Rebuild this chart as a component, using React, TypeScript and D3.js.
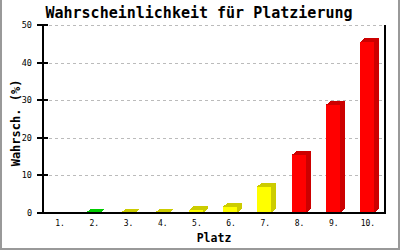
import React from "react";
import * as d3 from "d3";

const categories = ["1.", "2.", "3.", "4.", "5.", "6.", "7.", "8.", "9.", "10."];
const values = [0, 0.1, 0.1, 0.1, 0.8, 1.7, 7.0, 15.5, 28.8, 45.5];
const colorGroups = ["green", "green", "yellow", "yellow", "yellow", "yellow", "yellow", "red", "red", "red"];
const yTicks = [0, 10, 20, 30, 40, 50];
const title = "Wahrscheinlichkeit für Platzierung";
const xTitle = "Platz";
const yTitle = "Wahrsch. (%)";

const palette: Record<string, { front: string; dark: string }> = {
  green: { front: "#00ee00", dark: "#00cc00" },
  yellow: { front: "#ffff00", dark: "#cccc00" },
  red: { front: "#ff0000", dark: "#cc0000" },
};

export default function App() {
  const W = 400, H = 250;
  const left = 43, right = 385, top = 25, bottom = 213;
  const x = d3.scaleBand<string>().domain(categories).range([left, right]);
  const y = d3.scaleLinear().domain([0, 50]).range([bottom, top]);
  const font = "'DejaVu Sans Mono', monospace";
  const dx = 5, dy = 4;
  return (
    <svg width={W} height={H} style={{ position: "absolute", left: 0, top: 0, background: "#fff" }}>
      <rect x={0} y={0} width={W} height={H} fill="#fff" />
      <path d={`M1,0 V249 H399 V0`} fill="none" stroke="#999" strokeWidth={2} />
      <text x={199} y={17.5} textAnchor="middle" fontFamily={font} fontWeight="bold" fontSize={15} fill="#000">{title}</text>
      {yTicks.filter(t => t > 0).map(t => (
        <line key={"g" + t} x1={49} x2={right} y1={Math.round(y(t)) + 0.5} y2={Math.round(y(t)) + 0.5}
          stroke="#bbb" strokeDasharray="3,3" />
      ))}
      {categories.map((c, i) => {
        const v = values[i];
        if (v <= 0) return null;
        const cx = x(c)! + x.bandwidth() / 2;
        const x0 = Math.round(cx - 8), x1 = Math.round(cx + 6);
        const yt = y(v), yb = y(0);
        const col = palette[colorGroups[i]];
        return (
          <g key={c} shapeRendering="crispEdges">
            <path d={`M${x1},${yb} L${x1 + dx},${yb - dy} L${x1 + dx},${yt - dy} L${x1},${yt} Z`} fill={col.dark} />
            <path d={`M${x0},${yt} L${x0 + dx},${yt - dy} L${x1 + dx},${yt - dy} L${x1},${yt} Z`} fill={col.dark} />
            <rect x={x0} y={yt} width={x1 - x0} height={yb - yt} fill={col.front} />
          </g>
        );
      })}
      <g shapeRendering="crispEdges">
        <line x1={left} x2={left} y1={top} y2={bottom + 1} stroke="#000" strokeWidth={2} />
        <line x1={right} x2={right} y1={top} y2={bottom + 1} stroke="#000" strokeWidth={2} />
        <line x1={left} x2={right + 1} y1={bottom} y2={bottom} stroke="#000" strokeWidth={2} />
        {yTicks.map(t => (
          <line key={"t" + t} x1={37} x2={48} y1={y(t)} y2={y(t)} stroke="#000" strokeWidth={2} />
        ))}
      </g>
      {yTicks.map(t => (
        <text key={"l" + t} x={32} y={y(t) + 3} textAnchor="end" fontFamily={font} fontSize={8.5} fill="#000">{t}</text>
      ))}
      {categories.map(c => (
        <text key={"x" + c} x={x(c)! + x.bandwidth() / 2} y={226} textAnchor="middle" fontFamily={font} fontSize={8} fill="#000">{c}</text>
      ))}
      <text x={(left + right) / 2} y={242} textAnchor="middle" fontFamily={font} fontWeight="bold" fontSize={11.5} fill="#000">{xTitle}</text>
      <text transform={`translate(20,123) rotate(-90)`} textAnchor="middle" fontFamily={font} fontWeight="bold" fontSize={12} fill="#000">{yTitle}</text>
    </svg>
  );
}
